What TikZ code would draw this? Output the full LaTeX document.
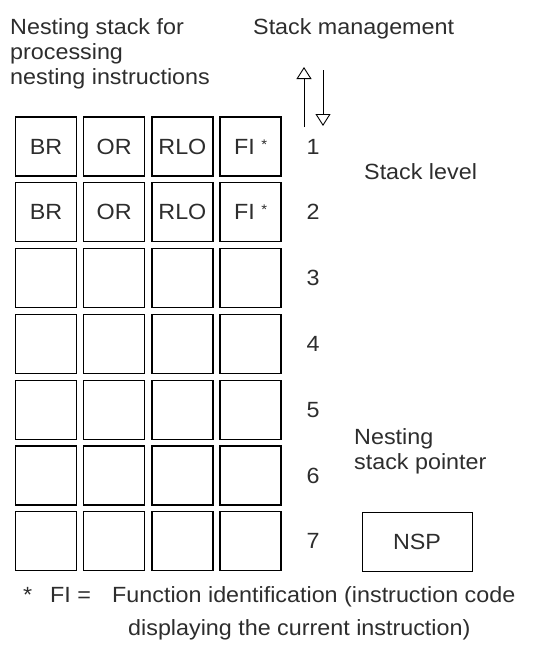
\documentclass[tikz,border=0pt]{standalone}
\usepackage{fontspec}
\setmainfont[FakeStretch=1.06]{Liberation Sans}
\usepackage{xcolor}
\usetikzlibrary{arrows.meta, positioning}
\definecolor{mytext}{RGB}{45, 45, 45}

\begin{document}
\begin{tikzpicture}[x=1pt,y=-1pt,
    cell/.style={draw,line width=1.3pt,minimum width=61pt,minimum height=59pt,inner sep=0pt},
    lbl/.style={font=\fontsize{22}{25}\selectfont,text=mytext,inner sep=0pt},
    openarrow/.style={-{Triangle[open,length=12pt,width=15pt]},line width=0.9pt}]
        \useasboundingbox (0,0) rectangle (539,645);
        % stack cells and level numbers
        \foreach \r in {1,...,7}{
          \foreach \c in {1,...,4}
            \node[cell] (c\r\c) at ({46+68.2*(\c-1)},{146.5+65.8*(\r-1)}) {};
          \node[lbl] (lvl\r) at (313,{146.5+65.8*(\r-1)}) {\r};
        }
        \foreach \r in {1,2}
          \foreach \c/\txt in {1/BR,2/OR,3/RLO,4/{FI \raisebox{5pt}{\fontsize{14}{14}\selectfont *}}}
            \node[lbl] (t\r\c) at (c\r\c) {\txt};
        % headings
        \node[lbl,anchor=north west,align=left] (title) at (10,18)
          {Nesting stack for\\processing\\nesting instructions};
        \node[lbl,anchor=north west] (mgmt) at (253,18) {Stack management};
        \node[lbl,anchor=west] (level) at (364,172) {Stack level};
        % stack management arrows
        \coordinate (upfrom) at (304,127);
        \coordinate (upto) at (304,67);
        \coordinate (downfrom) at (323,70);
        \coordinate (downto) at (323,126);
        \draw[openarrow] (upfrom) -- (upto);
        \draw[openarrow] (downfrom) -- (downto);
        % nesting stack pointer
        \node[lbl,anchor=north west,align=left] (nsplbl) at (354,428)
          {Nesting\\stack pointer};
        \node[draw,line width=1pt,minimum width=110pt,minimum height=59pt,
          lbl] (nsp) at (417,541.5) {NSP};
        % footnote
        \node[lbl,anchor=base west] (star) at (23,602) {*};
        \node[lbl,anchor=base west] (fi) at (50,602) {FI =};
        \node[lbl,anchor=base west] (fidesc) at (112,602)
          {Function identification (instruction code};
        \node[lbl,anchor=base west] (fidesc2) at (128,635)
          {displaying the current instruction)};
      \end{tikzpicture}
\end{document}
